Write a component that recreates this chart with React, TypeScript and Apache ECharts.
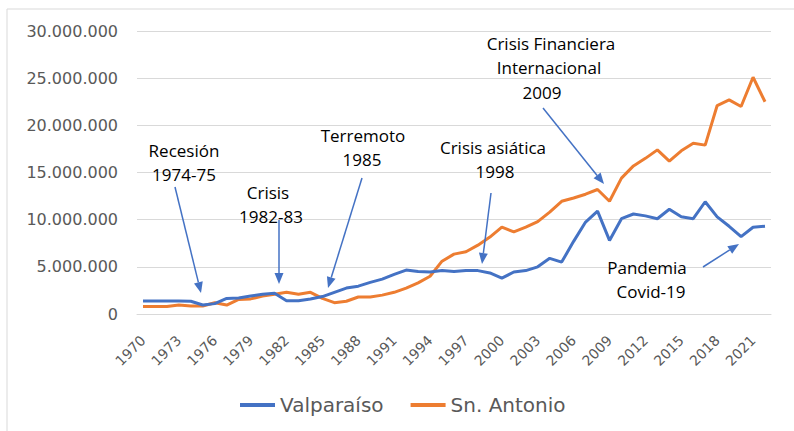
import React, { useEffect, useRef } from "react";
import * as echarts from "echarts";

const years: string[] = [];
for (let y = 1970; y <= 2022; y++) years.push(String(y));

const valparaiso = [
  1.38, 1.38, 1.38, 1.38, 1.35, 0.95, 1.1, 1.65, 1.7, 1.9, 2.1, 2.2,
  1.4, 1.4, 1.6, 1.85, 2.3, 2.75, 2.95, 3.35, 3.7, 4.2, 4.66, 4.5,
  4.45, 4.6, 4.5, 4.6, 4.6, 4.35, 3.8, 4.45, 4.6, 5.0, 5.9, 5.5,
  7.7, 9.75, 10.9, 7.8, 10.1, 10.6, 10.4, 10.1, 11.1, 10.3, 10.1, 11.9,
  10.3, 9.3, 8.2, 9.2, 9.3,
].map((v) => Math.round(v * 1000000));

const snAntonio = [
  0.8, 0.8, 0.8, 0.95, 0.85, 0.85, 1.2, 0.95, 1.55, 1.6, 1.9, 2.1,
  2.3, 2.1, 2.3, 1.65, 1.2, 1.35, 1.8, 1.8, 2.0, 2.3, 2.75, 3.3,
  4.0, 5.6, 6.35, 6.6, 7.3, 8.15, 9.2, 8.7, 9.2, 9.8, 10.8, 11.95,
  12.3, 12.7, 13.2, 11.95, 14.4, 15.7, 16.5, 17.4, 16.2, 17.3, 18.1, 17.9,
  22.1, 22.7, 22.0, 25.1, 22.5,
].map((v) => Math.round(v * 1000000));

const yTicks = { min: 0, max: 30000000, interval: 5000000 };

const annotations = [
  { lines: ["Recesión", "1974-75"], xs: [184, 184], y: 150, from: [175, 187], to: [201, 293] },
  { lines: ["Crisis", "1982-83"], xs: [268, 271], y: 192, from: [279, 220], to: [279, 284] },
  { lines: ["Terremoto", "1985"], xs: [363, 362], y: 135, from: [362, 178], to: [328, 288] },
  { lines: ["Crisis asiática", "1998"], xs: [493, 495], y: 147, from: [491, 193], to: [482, 264] },
  { lines: ["Crisis Financiera", "Internacional", "2009"], xs: [551, 549, 542], y: 43, from: [543, 108], to: [604, 184] },
  { lines: ["Pandemia", "Covid-19"], xs: [647, 651], y: 267, from: [703, 267], to: [739, 244] },
];

const BLUE = "#4472C4";
const ORANGE = "#ED7D31";

function fmt(v: number) {
  return String(Math.round(v)).replace(/\B(?=(\d{3})+(?!\d))/g, ".");
}

function arrowGraphics() {
  const els: any[] = [];
  annotations.forEach((a) => {
    a.lines.forEach((t, i) => {
      els.push({
        type: "text",
        x: a.xs[i],
        y: a.y + i * 24.5,
        style: {
          text: t,
          fill: "#000000",
          font: '17px "Open Sans"',
          align: "center",
          verticalAlign: "middle",
        },
        z: 10,
      });
    });
    const [x1, y1] = a.from;
    const [x2, y2] = a.to;
    const dx = x2 - x1;
    const dy = y2 - y1;
    const len = Math.sqrt(dx * dx + dy * dy);
    const ux = dx / len;
    const uy = dy / len;
    const hl = 11;
    const hw = 4.5;
    const bx = x2 - ux * hl;
    const by = y2 - uy * hl;
    els.push({
      type: "line",
      shape: { x1, y1, x2: bx, y2: by },
      style: { stroke: BLUE, lineWidth: 1.5 },
      z: 10,
    });
    els.push({
      type: "polygon",
      shape: {
        points: [
          [x2, y2],
          [bx - uy * hw, by + ux * hw],
          [bx + uy * hw, by - ux * hw],
        ],
      },
      style: { fill: BLUE },
      z: 10,
    });
  });
  els.push({
    type: "rect",
    shape: { x: 7, y: 9, width: 820, height: 460 },
    style: { fill: "none", stroke: "#d9d9d9", lineWidth: 1 },
    z: 0,
  });
  return els;
}

export default function App() {
  const ref = useRef<HTMLDivElement>(null);
  useEffect(() => {
    if (!ref.current) return;
    const chart = echarts.init(ref.current, null, { renderer: "svg" });
    chart.setOption({
      animation: false,
      backgroundColor: "#ffffff",
      grid: { left: 137, right: 23, top: 31, bottom: 117, containLabel: false },
      legend: {
        left: 235,
        top: 390,
        itemWidth: 35,
        itemHeight: 4,
        itemGap: 27,
        icon: "rect",
        textStyle: { fontFamily: "DejaVu Sans", fontSize: 20, color: "#595959" },
        data: ["Valparaíso", "Sn. Antonio"],
      },
      xAxis: {
        type: "category",
        data: years,
        boundaryGap: true,
        axisLine: { show: true, lineStyle: { color: "#d9d9d9", width: 1 } },
        axisTick: { show: false },
        axisLabel: {
          interval: 2,
          rotate: 45,
          fontFamily: "DejaVu Sans",
          fontSize: 14,
          color: "#595959",
          margin: 24,
        },
      },
      yAxis: {
        type: "value",
        min: yTicks.min,
        max: yTicks.max,
        interval: yTicks.interval,
        axisLine: { show: false },
        axisTick: { show: false },
        splitLine: { lineStyle: { color: "#d9d9d9", width: 1 } },
        axisLabel: {
          formatter: (v: number) => fmt(v),
          fontFamily: "DejaVu Sans",
          fontSize: 16,
          color: "#595959",
          margin: 19,
        },
      },
      series: [
        {
          name: "Valparaíso",
          type: "line",
          data: valparaiso,
          showSymbol: false,
          symbol: "none",
          lineStyle: { color: BLUE, width: 3 },
          itemStyle: { color: BLUE },
          z: 3,
        },
        {
          name: "Sn. Antonio",
          type: "line",
          data: snAntonio,
          showSymbol: false,
          symbol: "none",
          lineStyle: { color: ORANGE, width: 3 },
          itemStyle: { color: ORANGE },
          z: 2,
        },
      ],
      graphic: arrowGraphics(),
    });
    return () => chart.dispose();
  }, []);
  return (
    <div
      ref={ref}
      style={{ position: "fixed", left: 0, top: 0, width: 794, height: 431 }}
    />
  );
}
